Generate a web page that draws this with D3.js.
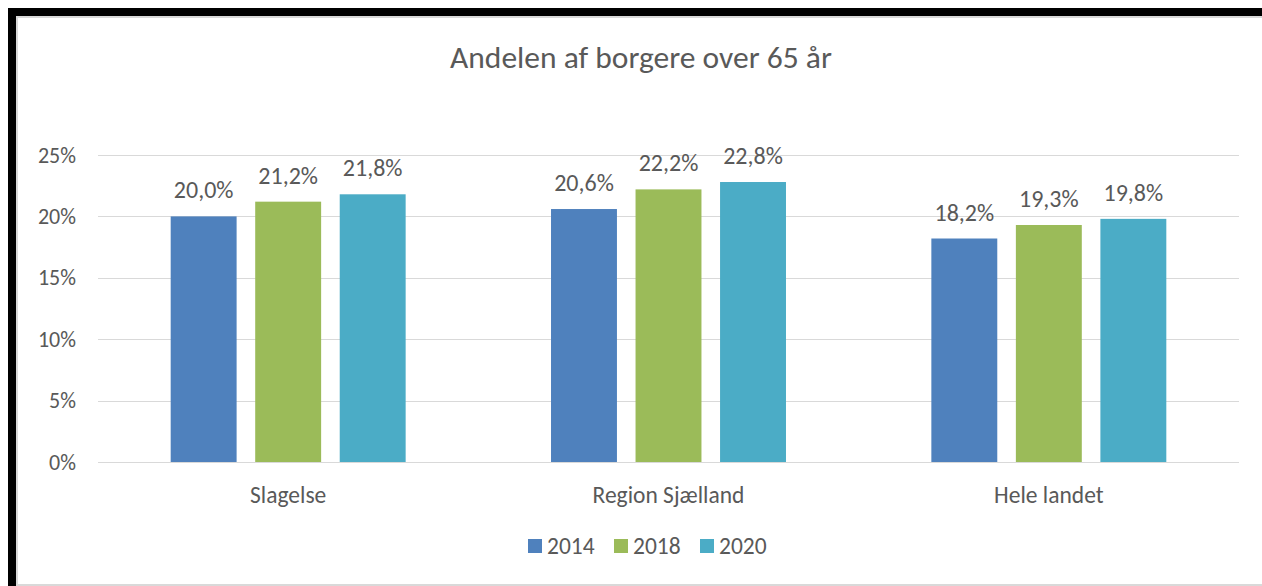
<!DOCTYPE html>
<html>
<head>
<meta charset="utf-8">
<script src="https://cdn.jsdelivr.net/npm/d3@7"></script>
<style>
  html, body { margin: 0; padding: 0; background: #fff; }
  svg { display: block; }
  text { font-family: Carlito, Calibri, Lato, sans-serif; fill: #595959; }
</style>
</head>
<body>
<svg id="chart" width="1262" height="586"></svg>
<script>
const categories = ['Slagelse', 'Region Sjælland', 'Hele landet'];
const years = ['2014', '2018', '2020'];
const values2014 = [0.200, 0.206, 0.182];
const values2018 = [0.212, 0.222, 0.193];
const values2020 = [0.218, 0.228, 0.198];
const yTicks = [0, 0.05, 0.10, 0.15, 0.20, 0.25];
const colors = ['#4f81bd', '#9bbb59', '#4bacc6'];
const title = 'Andelen af borgere over 65 år';

const seriesValues = [values2014, values2018, values2020];
const fmt = v => d3.format('.1f')(v * 100).replace('.', ',') + '%';

const svg = d3.select('#chart');

// frame: black edge top/left, light grey chart border
svg.append('rect').attr('x', 8).attr('y', 8).attr('width', 1254).attr('height', 578).attr('fill', '#000');
svg.append('rect').attr('x', 16).attr('y', 16).attr('width', 1246).attr('height', 570).attr('fill', '#d9d9d9');
svg.append('rect').attr('x', 18).attr('y', 18).attr('width', 1244).attr('height', 566).attr('fill', '#fff');

const margin = {left: 98, right: 1239, top: 155, bottom: 462};

let x0 = d3.scaleBand()
    .domain(categories)
    .range([margin.left, margin.right]);

let x1 = d3.scaleBand()
    .domain(years)
    .range([0, x0.bandwidth()])
    .paddingInner(0.22)
    .paddingOuter(0.86);

let y = d3.scaleLinear()
    .domain([0, 0.25])
    .range([margin.bottom, margin.top]);

// gridlines
svg.append('g')
    .selectAll('line')
    .data(yTicks)
    .join('line')
    .attr('x1', margin.left)
    .attr('x2', margin.right)
    .attr('y1', d => Math.round(y(d)) + 0.5)
    .attr('y2', d => Math.round(y(d)) + 0.5)
    .attr('stroke', '#d9d9d9')
    .attr('stroke-width', 1);

// y axis labels
let yAxis = d3.axisLeft(y)
    .tickValues(yTicks)
    .tickFormat(d => Math.round(d * 100) + '%')
    .tickSize(0)
    .tickPadding(22);
let gy = svg.append('g')
    .attr('transform', 'translate(' + margin.left + ',0)')
    .call(yAxis);
gy.select('.domain').remove();
gy.selectAll('text')
    .attr('font-size', 22)
    .attr('fill', '#595959')
    .style('font-family', 'Carlito, Calibri, Lato, sans-serif');

// bars
let groups = svg.append('g')
    .selectAll('g')
    .data(categories)
    .join('g')
    .attr('transform', d => 'translate(' + x0(d) + ',0)');

groups.selectAll('rect')
    .data((d, i) => years.map((yr, s) => ({year: yr, s: s, v: seriesValues[s][i]})))
    .join('rect')
    .attr('x', d => x1(d.year))
    .attr('y', d => y(d.v))
    .attr('width', x1.bandwidth())
    .attr('height', d => y(0) - y(d.v))
    .attr('fill', d => colors[d.s]);

groups.selectAll('text.label')
    .data((d, i) => years.map((yr, s) => ({year: yr, s: s, v: seriesValues[s][i]})))
    .join('text')
    .attr('class', 'label')
    .attr('x', d => x1(d.year) + x1.bandwidth() / 2)
    .attr('y', d => y(d.v) - 18)
    .attr('text-anchor', 'middle')
    .attr('font-size', 24)
    .text(d => fmt(d.v));

// x axis labels
let xAxis = d3.axisBottom(x0).tickSize(0).tickPadding(24);
let gx = svg.append('g')
    .attr('transform', 'translate(0,' + margin.bottom + ')')
    .call(xAxis);
gx.select('.domain').remove();
gx.selectAll('text')
    .attr('font-size', 23.5)
    .attr('fill', '#595959')
    .style('font-family', 'Carlito, Calibri, Lato, sans-serif');

// title
svg.append('text')
    .attr('x', 641)
    .attr('y', 68)
    .attr('text-anchor', 'middle')
    .attr('font-size', 31.5)
    .text(title);

// legend
const legendX = [528, 614, 700];
let legend = svg.append('g')
    .selectAll('g')
    .data(years)
    .join('g')
    .attr('transform', (d, i) => 'translate(' + legendX[i] + ',539)');
legend.append('rect')
    .attr('width', 14)
    .attr('height', 14)
    .attr('fill', (d, i) => colors[i]);
legend.append('text')
    .attr('x', 19)
    .attr('y', 15)
    .attr('font-size', 23.5)
    .text(d => d);
</script>
</body>
</html>
